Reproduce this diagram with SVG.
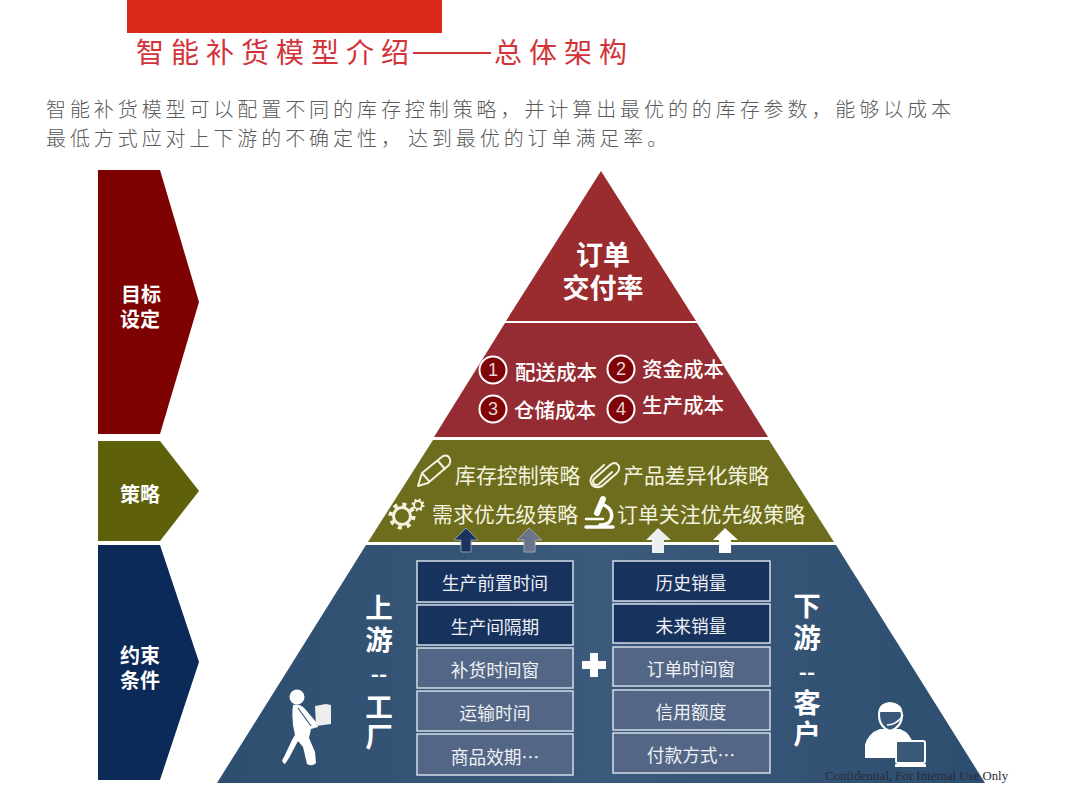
<svg xmlns="http://www.w3.org/2000/svg" width="1080" height="810" viewBox="0 0 1080 810" lang="zh-CN">
<style>
text{font-family:"Liberation Sans","Noto Sans CJK SC",sans-serif}
.cn{font-family:"Noto Sans CJK SC",sans-serif}
.w{fill:#fff;text-anchor:middle}
.box{stroke:#d3dde8;stroke-width:1.5}
.dk{fill:#18325e}
.lt{fill:#546685}
.bt{font-size:17.7px;fill:#eef1f5;text-anchor:middle;font-family:"Noto Sans CJK SC",sans-serif}
.body{font-size:20px;letter-spacing:3.92px;fill:#5a5a5a;font-family:"Noto Sans CJK SC",sans-serif;font-weight:300}
.head{font-size:28px;fill:#d2343a;letter-spacing:7px;font-family:"Noto Sans CJK SC",sans-serif}
.lab{font-size:20.5px;fill:#fff;font-family:"Noto Sans CJK SC",sans-serif;font-weight:500}
.st{font-size:20.9px;fill:#f3f3df;font-family:"Noto Sans CJK SC",sans-serif}
.num{fill:#7f0408;stroke:#fff;stroke-width:2}
.numt{font-size:18px;fill:#e9d6d6;text-anchor:middle}
.ln{fill:none;stroke:#f3f3df;stroke-width:2;stroke-linecap:round;stroke-linejoin:round}
.v{font-size:22px;font-weight:700;fill:#fff;text-anchor:middle;font-family:"Noto Sans CJK SC",sans-serif}
.vv{font-size:27.5px;font-weight:700;fill:#fff;writing-mode:vertical-rl;text-orientation:upright;font-family:"Noto Sans CJK SC",sans-serif}
.chv{font-size:20px;font-weight:700;fill:#fff;text-anchor:middle;font-family:"Noto Sans CJK SC",sans-serif}
</style>
<defs>
<linearGradient id="blue" x1="0" x2="1" y1="0" y2="0"><stop offset="0" stop-color="#2d4e6f"/><stop offset=".5" stop-color="#3c5a7b"/><stop offset="1" stop-color="#2d4e6f"/></linearGradient>
</defs>
<rect width="1080" height="810" fill="#fff"/>
<rect x="127" y="0" width="315" height="33" fill="#db2a1b"/>
<text class="head" x="136" y="63">智能补货模型介绍</text>
<rect x="413" y="52" width="78" height="2" fill="#d2343a"/>
<text class="head" x="494" y="63">总体架构</text>
<text class="body" x="46" y="117">智能补货模型可以配置不同的库存控制策略，并计算出最优的的库存参数，能够以成本</text>
<text class="body" x="46" y="146">最低方式应对上下游的不确定性， <tspan x="408">达到最优的订单满足率。</tspan></text>

<g id="chevron-goal"><polygon points="98,170 160,170 199,302 160,434 98,434" fill="#7e0202"/><text class="chv" x="141" y="302">目标<tspan x="140" dy="25">设定</tspan></text></g>
<g id="chevron-strategy"><polygon points="98,441 160,441 199,491 160,541 98,541" fill="#5f600a"/><text class="chv" x="140" y="502" fill="#f3f3df">策略</text></g>
<g id="chevron-constraint"><polygon points="98,545 160,545 199,662 160,780 98,780" fill="#0c2a57"/><text class="chv" x="140" y="663">约束<tspan x="140" dy="25">条件</tspan></text></g>

<g id="tier-delivery"><polygon points="601,171 696,321 506,321" fill="#9a2c30"/>
<text class="w cn" x="603" y="265" font-size="27" font-weight="700">订单<tspan x="603" dy="33">交付率</tspan></text></g>

<g id="tier-cost"><polygon points="505,323 697,323 768,437 434,437" fill="#962c33"/>
<circle class="num" cx="493" cy="370" r="13.5"/><text class="numt" x="493" y="376">1</text><text class="lab" x="515" y="380">配送成本</text>
<circle class="num" cx="621" cy="369" r="13.5"/><text class="numt" x="621" y="375">2</text><text class="lab" x="642" y="377">资金成本</text>
<circle class="num" cx="493" cy="409" r="13.5"/><text class="numt" x="493" y="415">3</text><text class="lab" x="514" y="418">仓储成本</text>
<circle class="num" cx="621" cy="409" r="13.5"/><text class="numt" x="621" y="415">4</text><text class="lab" x="642" y="413">生产成本</text></g>

<g id="tier-strategy"><polygon points="433,440 769,440 834,542 368,542" fill="#6d6d1d"/>
<g id="icon-pencil"><path class="ln" d="M418,486 L422,473 L443,456 Q448,454 450,459 Q451,462 449,465 L428,483 Z M422,473 L429,481 M438,461 L445,469"/></g>
<text class="st" x="455" y="483">库存控制策略</text>
<g id="icon-clip"><path class="ln" d="M612,472 L599,484 Q596,486 594,484 Q592,481 594,479 L610,465 Q615,461 618,465 Q621,468 617,473 L602,486 Q596,489 592,485 Q589,481 592,476 L604,465"/></g>
<text class="st" x="623" y="483">产品差异化策略</text>
<g id="icon-gears" fill="none" stroke="#f3f3df"><circle cx="402" cy="516" r="8.5" stroke-width="3"/><circle cx="402" cy="516" r="11.5" stroke-width="4" stroke-dasharray="4 5.03"/><circle cx="418" cy="505" r="4" stroke-width="2"/><circle cx="418" cy="505" r="5.5" stroke-width="2" stroke-dasharray="2 2.32"/></g>
<text class="st" x="432" y="522">需求优先级策略</text>
<g id="icon-microscope" fill="none" stroke="#fff" stroke-linecap="round"><path d="M586,519 H603" stroke-width="2.5"/><path d="M586,527 H613" stroke-width="3.5"/><path d="M604,505 Q614,510 611,519 Q609,525 600,525" stroke-width="3.5"/><path d="M603,499 L597,513" stroke-width="6"/></g>
<text class="st" x="617" y="522">订单关注优先级策略</text></g>

<g id="tier-constraints"><polygon points="366,545 836,545 985,783 217,783" fill="url(#blue)"/>
<text class="vv" x="379" y="594" letter-spacing="4.5">上游</text><text class="v" x="379" y="682">--</text><text class="vv" x="379" y="693" letter-spacing="2.5">工厂</text>
<text class="vv" x="807" y="592" letter-spacing="4.5">下游</text><text class="v" x="807" y="680">--</text><text class="vv" x="807" y="689" letter-spacing="3.5">客户</text>
<rect class="box dk" x="417" y="561" width="156" height="41"/><text class="bt" x="495" y="590">生产前置时间</text>
<rect class="box dk" x="417" y="605" width="156" height="40"/><text class="bt" x="495" y="634">生产间隔期</text>
<rect class="box lt" x="417" y="648" width="156" height="40"/><text class="bt" x="495" y="677">补货时间窗</text>
<rect class="box lt" x="417" y="691" width="156" height="40"/><text class="bt" x="495" y="720">运输时间</text>
<rect class="box lt" x="417" y="734" width="156" height="41"/><text class="bt" x="495" y="764">商品效期…</text>
<rect class="box dk" x="613" y="561" width="157" height="40"/><text class="bt" x="691" y="590">历史销量</text>
<rect class="box dk" x="613" y="604" width="157" height="39"/><text class="bt" x="691" y="633">未来销量</text>
<rect class="box lt" x="613" y="647" width="157" height="39"/><text class="bt" x="691" y="676">订单时间窗</text>
<rect class="box lt" x="613" y="690" width="157" height="40"/><text class="bt" x="691" y="719">信用额度</text>
<rect class="box lt" x="613" y="733" width="157" height="40"/><text class="bt" x="691" y="762">付款方式…</text>
<path d="M590,653 h8 v8 h8 v8 h-8 v8 h-8 v-8 h-8 v-8 h8 z" fill="#fff"/>
<g id="icon-worker"><circle cx="297" cy="697" r="7.5" fill="#fff"/><path d="M293,705 Q300,703 306,710 L316,722 L318,727 L311,729 L309,738 L315,752 L316,763 Q312,767 307,764 L303,747 L298,741 L289,758 L285,764 Q280,762 284,757 L292,740 L295,735 Q291,720 293,705Z" fill="#fff"/><path d="M298,708 L311,726" stroke="#3a5878" stroke-width="1.2" fill="none"/><path d="M315,706 L326,704 L331,705 V724 L316,726 Z" fill="#eee"/></g>
<g id="icon-agent"><path d="M865,758 V745 Q868,733 880,729 L900,729 Q911,733 913,745 V752 L895,752 V758 Z" fill="#fff"/><path d="M879,715 Q879,704 890,703 Q901,704 902,715 Q902,727 890,731 Q879,727 879,715 Z" fill="#3a5878" stroke="#fff" stroke-width="2"/><path d="M879,712 Q879,703 890,703 Q902,703 902,712 Z" fill="#fff"/><path d="M887,725 Q895,725 901,718 L903,715" fill="none" stroke="#fff" stroke-width="1.5"/><rect x="896" y="741" width="29" height="22" rx="2" fill="#3a5878" stroke="#fff" stroke-width="2"/><rect x="895" y="764" width="31" height="3" fill="#fff"/></g>
</g>

<g id="connectors">
<path d="M466,528 L478,540 H471 V552 H461 V540 H454 Z" fill="#1a335f" stroke="#8899ac"/>
<path d="M529,528 L542,540 H535 V552 H524 V540 H517 Z" fill="#6a7488" stroke="#9aa3ae"/>
<path d="M658,528 L671,540 H664 V553 H652 V540 H646 Z" fill="#eef0ef"/>
<path d="M725,528 L738,540 H731 V553 H719 V540 H713 Z" fill="#fff"/>
</g>
<text x="825" y="780" font-size="12.8" style="font-family:'Liberation Serif',serif" fill="#2a2a3a">Confidential, For Internal Use Only</text>
</svg>
